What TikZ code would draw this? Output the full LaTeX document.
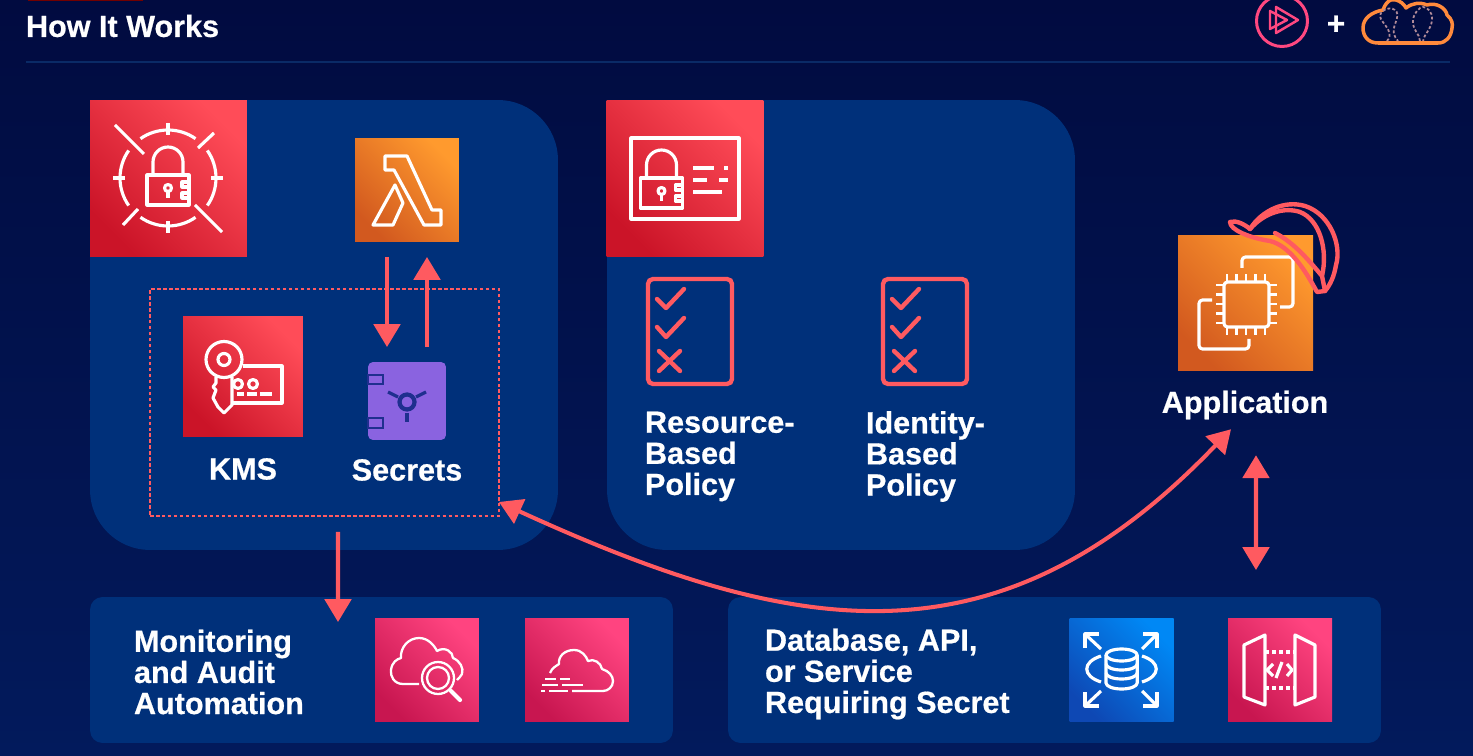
\documentclass[tikz,border=0pt]{standalone}
\definecolor{NightBlue}{HTML}{010B40}
\definecolor{DeepBlue}{HTML}{021A5C}
\definecolor{PanelBlue}{HTML}{00307A}
\definecolor{RuleBlue}{HTML}{0A2A66}
\definecolor{Coral}{HTML}{FF5A60}
\definecolor{CloudOrange}{HTML}{FF8A3C}
\definecolor{SafePurple}{HTML}{8A63E0}
\definecolor{SafeInk}{HTML}{1F2F8F}
\definecolor{RedLow}{HTML}{CB1428}
\definecolor{RedHigh}{HTML}{FF4C58}
\definecolor{OrangeLow}{HTML}{D2591F}
\definecolor{OrangeHigh}{HTML}{FF9A2E}
\definecolor{PinkLow}{HTML}{C81650}
\definecolor{PinkHigh}{HTML}{FF4480}
\definecolor{BlueLow}{HTML}{0E48B4}
\definecolor{BlueHigh}{HTML}{0088F5}
\definecolor{TreeDots}{HTML}{B08A98}
\usepackage{fontspec}
\setmainfont{Liberation Sans}[BoldFeatures={FakeBold=0.6}]
\usepackage{tikz}
\usetikzlibrary{arrows.meta, positioning, calc}
\tikzset{
  lockglyph/.pic={
    \draw[iconline] (-21,-15) rectangle (21,15);
    \draw[iconline] (-15,-15) -- (-15,-28) arc[start angle=180, end angle=360, radius=15] -- (15,-15);
    \draw[iconline] (0,-2) circle[radius=3.5];
    \draw[iconline] (0,1.5) -- (0,8);
    \draw[iconline] (21,-8) -- (14,-8) -- (14,-3) -- (21,-3);
    \draw[iconline] (21,3) -- (14,3) -- (14,8) -- (21,8);
  }
}

\begin{document}
\begin{tikzpicture}[>={Triangle[length=13pt, width=15pt]}, x=0.02cm, y=-0.02cm,
    panel/.style={fill=PanelBlue, rounded corners=1.2cm, inner sep=0pt, outer sep=0pt,
                  minimum width=9.36cm, minimum height=9cm},
    band/.style={fill=PanelBlue, rounded corners=0.25cm, inner sep=0pt, outer sep=0pt,
                 minimum height=2.92cm},
    tile/.style={inner sep=0pt, outer sep=0pt},
    redtile/.style={tile, bottom color=RedLow, top color=RedHigh, shading angle=-45},
    orangetile/.style={tile, bottom color=OrangeLow, top color=OrangeHigh, shading angle=-45},
    pinktile/.style={tile, bottom color=PinkLow, top color=PinkHigh, shading angle=-45},
    bluetile/.style={tile, bottom color=BlueLow, top color=BlueHigh, shading angle=-45},
    iconline/.style={draw=white, line width=1.8pt, line join=round},
    thinline/.style={iconline, line width=1.3pt},
    coralline/.style={draw=Coral, line width=2.5pt, line join=round, line cap=round},
    flow/.style={draw=Coral, line width=2.3pt},
    caption/.style={text=white, inner sep=0pt, outer sep=0pt, align=left,
                    font=\fontsize{17.4}{17.7}\selectfont\bfseries}]
  % Backdrop and header
  \useasboundingbox (0,0) rectangle (1473,756);
  \shade[top color=NightBlue, bottom color=DeepBlue] (0,0) rectangle (1473,756);
  \fill[red!45!black] (28,0) rectangle (143,1);
  \node[caption, anchor=west] (title) at (26,26) {How It Works};
  \draw[RuleBlue, line width=1pt] (26,62) -- (1450,62);

  % Logos top right
  \draw[draw=Coral!80!magenta, line width=1.7pt] (1282,21) circle[radius=25.5];
  \draw[draw=Coral!80!magenta, line width=1.4pt, line join=round] (1276,7) -- (1298,20) -- (1276,33) -- cycle;
  \draw[draw=Coral!80!magenta, line width=1.4pt, line join=round] (1270,11) -- (1287,20) -- (1270,29) -- cycle;
  \node[text=white, inner sep=0pt, font=\fontsize{18}{18}\selectfont\bfseries] (plus) at (1336,25) {+};
  \draw[draw=CloudOrange, line width=2pt, line join=round]
    (1378,43) .. controls (1368,43) and (1363,36) .. (1363,28)
    .. controls (1363,18) and (1372,12) .. (1383,10)
    .. controls (1385,4) and (1388,1) .. (1391,0) -- (1396,0)
    .. controls (1400,1) and (1404,4) .. (1406,8)
    .. controls (1412,3) and (1420,2) .. (1427,5)
    .. controls (1436,2) and (1446,8) .. (1447,15)
    .. controls (1452,19) and (1453,24) .. (1452,28)
    .. controls (1451,37) and (1446,43) .. (1438,43) -- cycle;
  \draw[draw=TreeDots, line width=1pt, dash pattern=on 1.6pt off 1.2pt]
    (1387,41) .. controls (1397,30) and (1375,20) .. (1381,13)
    .. controls (1387,5) and (1400,8) .. (1397,18)
    .. controls (1395,26) and (1390,32) .. (1398,41);
  \draw[draw=TreeDots, line width=1pt, dash pattern=on 1.6pt off 1.2pt]
    (1420,41) .. controls (1420,34) and (1412,30) .. (1413,20)
    .. controls (1414,12) and (1420,7) .. (1423,7)
    .. controls (1427,7) and (1433,12) .. (1432,20)
    .. controls (1431,30) and (1424,34) .. (1423,41);

  % Panels
  \node[panel] (corepanel) at (324,325) {};
  \node[panel] (policypanel) at (841,325) {};
  \node[band, minimum width=11.66cm] (auditpanel) at (381.5,670) {};
  \node[band, minimum width=13.06cm] (dbpanel) at (1054.5,670) {};
  \node[draw=Coral, line width=0.9pt, dash pattern=on 2pt off 1.4pt, inner sep=0pt, outer sep=0pt,
        minimum width=6.98cm, minimum height=4.54cm] (sealbox) at (324.5,402.5) {};

  % Secrets Manager seal
  \node[redtile, minimum size=3.14cm] (seal) at (168.5,178.5) {};
  \foreach \a in {0,90,180,270} {
    \draw[iconline, shift={(168,178)}] (\a-35:48) arc[start angle=\a-35, end angle=\a+35, radius=48];
    \draw[iconline, shift={(168,178)}] (\a:43) -- (\a:55);
  }
  \draw[iconline] (115,125) -- (144,154);
  \draw[iconline] (198,148) -- (214,133);
  \draw[iconline] (123,225) -- (138,209);
  \draw[iconline] (195,205) -- (222,232);
  \pic at (168,190) {lockglyph};

  % Lambda
  \node[orangetile, minimum size=2.08cm] (lambda) at (407,190) {};
  \draw[iconline] (385,156) -- (407,156) -- (432,210) -- (441,210) -- (441,225) -- (424,225) -- (394,170) -- (385,170) -- cycle;
  \draw[iconline] (395,185) -- (403,203) -- (393,225) -- (373,225) -- cycle;

  % KMS
  \node[redtile, minimum width=2.4cm, minimum height=2.42cm] (kms) at (243,376.5) {};
  \draw[iconline] (224,359.5) circle[radius=18];
  \draw[iconline] (224,359.5) circle[radius=6];
  \draw[iconline] (216,377) -- (216,383) -- (213,387) -- (216,390) -- (213,398) -- (218,407) -- (224,413) -- (232,405) -- (232,377);
  \draw[iconline] (243,366) -- (282,366) -- (282,403) -- (232,403);
  \draw[iconline] (238,384) circle[radius=4.5];
  \draw[iconline] (253,384) circle[radius=4.5];
  \draw[iconline] (237,394) -- (244,394);
  \draw[iconline] (247,394) -- (257,394);
  \draw[iconline] (260,394) -- (272,394);
  \node[caption, align=center] (kmsname) at (243,469) {KMS};

  % Secrets vault
  \node[fill=SafePurple, rounded corners=0.1cm, inner sep=0pt, outer sep=0pt, minimum size=1.56cm] (safe) at (407,401) {};
  \draw[SafeInk, line width=0.7pt] (368,375) rectangle (383,384);
  \draw[SafeInk, line width=0.7pt] (368,418) rectangle (383,428);
  \draw[SafeInk, line width=2.4pt] (407,402) circle[radius=7.5];
  \draw[SafeInk, line width=1.8pt] (388,392) -- (398,397);
  \draw[SafeInk, line width=1.8pt] (426,392) -- (416,397);
  \draw[SafeInk, line width=1.8pt] (407,413) -- (407,422);
  \node[caption, align=center] (safename) at (407,470) {Secrets};

  % IAM identity card
  \node[redtile, minimum size=3.14cm] (iam) at (685,178.5) {};
  \draw[iconline] (631,138) rectangle (739,219);
  \pic at (661.5,193) {lockglyph};
  \draw[iconline] (693,168) -- (714,168);
  \draw[iconline] (724,168) -- (728,168);
  \draw[iconline] (693,180) -- (707,180);
  \draw[iconline] (719,180) -- (728,180);
  \draw[iconline] (693,192) -- (722,192);

  % Policy documents
  \node[draw=Coral, line width=2.5pt, rounded corners=0.1cm, inner sep=0pt, minimum width=1.68cm, minimum height=2.1cm] (resdoc) at (690,331.5) {};
  \node[draw=Coral, line width=2.5pt, rounded corners=0.1cm, inner sep=0pt, minimum width=1.68cm, minimum height=2.1cm] (iddoc) at (925,331.5) {};
  \foreach \dx in {0,235} {
    \draw[coralline, shift={(\dx,0)}] (657,299) -- (666,308) -- (684,289);
    \draw[coralline, shift={(\dx,0)}] (657,327) -- (666,337) -- (684,318);
    \draw[coralline, shift={(\dx,0)}] (659,351) -- (680,371);
    \draw[coralline, shift={(\dx,0)}] (680,351) -- (659,371);
  }
  \node[caption, anchor=west] (resname) at (645,456.5) {Resource-\\Based\\Policy};
  \node[caption, anchor=west] (idname) at (866,456.5) {Identity-\\Based\\Policy};

  % Application with hard hat
  \node[orangetile, minimum width=2.7cm, minimum height=2.72cm] (ec2) at (1245.5,303) {};
  \draw[iconline, rounded corners=2pt] (1224,282) rectangle (1269,327);
  \foreach \d in {0,9.5,19,28.5,38} {
    \draw[thinline] (1227+\d,282) -- (1227+\d,274);
    \draw[thinline] (1227+\d,327) -- (1227+\d,335);
    \draw[thinline] (1224,285+\d) -- (1216,285+\d);
    \draw[thinline] (1269,285+\d) -- (1277,285+\d);
  }
  \draw[iconline, rounded corners=2pt] (1242,268) -- (1242,257) -- (1293,257) -- (1293,307) -- (1280,307);
  \draw[iconline, rounded corners=2pt] (1212,300) -- (1199,300) -- (1199,349) -- (1249,349) -- (1249,339);
  \draw[coralline]
    (1230,222) .. controls (1236,220) and (1244,224) .. (1250,229)
    .. controls (1262,210) and (1285,200) .. (1305,206)
    .. controls (1330,214) and (1342,245) .. (1336,265)
    .. controls (1334,277) and (1330,285) .. (1325,291) -- (1317,292)
    .. controls (1305,270) and (1290,246) .. (1270,241)
    .. controls (1250,238) and (1230,230) .. (1230,222);
  \draw[coralline] (1250,229) .. controls (1265,212) and (1285,207) .. (1300,212)
    .. controls (1320,220) and (1328,250) .. (1322,276) -- (1325,291);
  \draw[coralline] (1275,233) .. controls (1295,243) and (1310,262) .. (1322,276);
  \node[caption, align=center] (appname) at (1245,405) {Application};

  % Monitoring band
  \node[caption, anchor=west] (auditname) at (134,672) {Monitoring\\and Audit\\Automation};
  \node[pinktile, minimum size=2.08cm] (watch) at (427,670) {};
  \draw[thinline] (419,684) -- (403,684) .. controls (394,684) and (390,676) .. (391,670)
    .. controls (392,662) and (397,659) .. (401,658) .. controls (400,648) and (408,638) .. (419,638)
    .. controls (428,638) and (434,645) .. (437,651) .. controls (445,646) and (453,652) .. (453,658)
    .. controls (460,661) and (464,668) .. (462,674) .. controls (461,676) and (459,678) .. (457,680);
  \draw[thinline] (438,678) circle[radius=16];
  \draw[thinline] (438,678) circle[radius=11];
  \draw[iconline, line width=2.4pt, line cap=round] (451,691) -- (460,700);
  \node[pinktile, minimum size=2.08cm] (trail) at (577,670) {};
  \draw[thinline] (550,673) .. controls (552,668) and (556,666) .. (559,664)
    .. controls (558,656) and (565,650) .. (574,650) .. controls (582,650) and (586,656) .. (588,661)
    .. controls (594,658) and (601,663) .. (602,669) .. controls (609,671) and (613,676) .. (613,681)
    .. controls (613,687) and (608,691) .. (603,691) -- (572,691);
  \draw[thinline] (545,679) -- (556,679);
  \draw[thinline] (560,679) -- (570,679);
  \draw[thinline] (542,685) -- (558,685);
  \draw[thinline] (562,685) -- (583,685);
  \draw[thinline] (541,691) -- (545,691);
  \draw[thinline] (549,691) -- (568,691);

  % Database band
  \node[caption, anchor=west] (dbname) at (765,674) {Database, API,\\or Service\\Requiring Secret};
  \node[bluetile, minimum size=2.08cm] (rds) at (1121.5,670) {};
  \draw[iconline] (1106,655) -- (1106,683) arc[start angle=180, end angle=0, x radius=15.6, y radius=6] -- (1137.2,655);
  \draw[iconline] (1121.6,655) ellipse[x radius=15.6, y radius=6];
  \draw[iconline] (1106,664) arc[start angle=180, end angle=0, x radius=15.6, y radius=6];
  \draw[iconline] (1106,673) arc[start angle=180, end angle=0, x radius=15.6, y radius=6];
  \draw[iconline] (1101,656) .. controls (1082,662) and (1082,676) .. (1101,682);
  \draw[iconline] (1142,656) .. controls (1161,662) and (1161,676) .. (1142,682);
  \draw[iconline] (1101,649) -- (1085,634);
  \draw[iconline] (1085,648) -- (1085,634) -- (1099,634);
  \draw[iconline] (1142,649) -- (1157,634);
  \draw[iconline] (1143,634) -- (1157,634) -- (1157,648);
  \draw[iconline] (1101,691) -- (1085,706);
  \draw[iconline] (1085,692) -- (1085,706) -- (1099,706);
  \draw[iconline] (1142,691) -- (1157,706);
  \draw[iconline] (1143,706) -- (1157,706) -- (1157,692);
  \node[pinktile, minimum size=2.08cm] (gateway) at (1280,670) {};
  \draw[iconline] (1244,645) -- (1265,635) -- (1265,705) -- (1244,697) -- cycle;
  \draw[iconline] (1295,635) -- (1315,645) -- (1315,697) -- (1295,705) -- cycle;
  \draw[iconline, dash pattern=on 2.5pt off 1.5pt] (1265,652) -- (1295,652);
  \draw[iconline, dash pattern=on 2.5pt off 1.5pt] (1265,688) -- (1295,688);
  \draw[iconline] (1273,664) -- (1267,670) -- (1273,676);
  \draw[iconline] (1287,664) -- (1292,670) -- (1287,676);
  \draw[iconline] (1282,662) -- (1276,678);

  % Connectors
  \draw[flow, ->, shorten <=0.3cm, shorten >=0.3cm] ([xshift=-0.4cm]lambda.south) -- ([xshift=-0.4cm]safe.north);
  \draw[flow, ->, shorten <=0.3cm, shorten >=0.3cm] ([xshift=0.4cm]safe.north) -- ([xshift=0.4cm]lambda.south);
  \draw[flow, ->, shorten <=0.32cm, shorten >=-0.5cm] ([xshift=0.27cm]sealbox.south) -- ([xshift=-0.87cm]auditpanel.north);
  \draw[flow, <->] ([yshift=0.28cm]sealbox.south east) .. controls (800,640) and (1000,670) .. ([shift={(-0.28cm,-0.2cm)}]appname.south);
  \draw[flow, <->, shorten <=0.72cm, shorten >=0.54cm] ([xshift=0.22cm]appname.south) -- ([xshift=4.03cm]dbpanel.north);
\end{tikzpicture}
\end{document}
